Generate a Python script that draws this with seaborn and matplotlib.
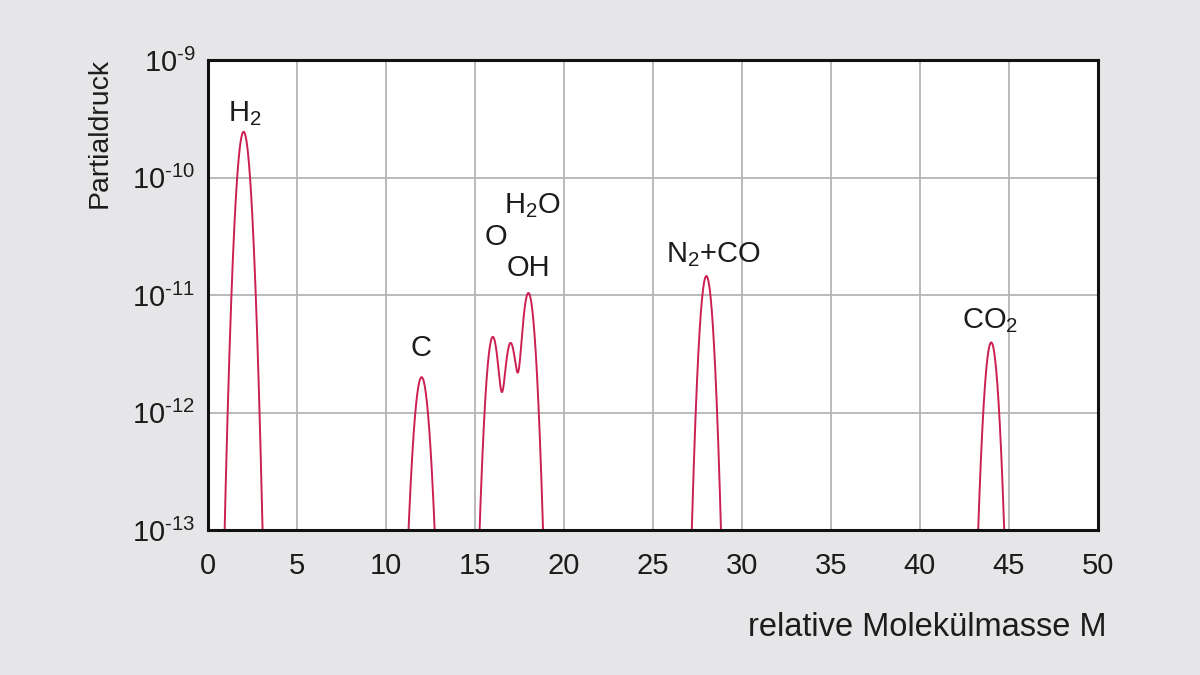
import numpy as np
import pandas as pd
import matplotlib
matplotlib.use("Agg")
import matplotlib.pyplot as plt
import seaborn as sns

# ---- data ----
peak_mass = [2, 12, 16, 17, 18, 28, 44]                      # relative Molekülmasse M
peak_pressure = [2.45e-10, 2.0e-12, 4.4e-12, 3.9e-12, 1.04e-11, 1.45e-11, 3.95e-12]  # Partialdruck
peak_width = [0.27, 0.30, 0.27, 0.27, 0.27, 0.26, 0.27]      # peak sigma (mass units)

label_texts = [r"$\mathregular{H_2}$", "C", r"$\mathregular{H_2O}$", "O", "OH",
               r"$\mathregular{N_2{+}CO}$", r"$\mathregular{CO_2}$"]
label_x = [2.08, 11.94, 18.2, 16.17, 18.03, 28.4, 43.94]
label_y = [3.5e-10, 3.55e-12, 5.8e-11, 3.1e-11, 1.7e-11, 2.2e-11, 6.1e-12]

x_ticks = [0, 5, 10, 15, 20, 25, 30, 35, 40, 45, 50]
y_ticks = [1e-13, 1e-12, 1e-11, 1e-10, 1e-9]
y_exponents = ["13", "12", "11", "10", "9"]
y_tick_labels = [r"$\mathregular{10^{\text{-}" + e + r"}}$" for e in y_exponents]

# ---- spectrum built from the peak list ----
mass = np.linspace(0, 50, 5001)
pressure = np.zeros_like(mass)
for m, p, w in zip(peak_mass, peak_pressure, peak_width):
    pressure += p * np.exp(-0.5 * ((mass - m) / w) ** 2)
pressure = np.maximum(pressure, 1e-16)
df = pd.DataFrame({"M": mass, "p": pressure})

sns.set_theme(style="white")
plt.rcParams["font.family"] = ["Liberation Sans", "DejaVu Sans"]
plt.rcParams["mathtext.fontset"] = "custom"
plt.rcParams["mathtext.rm"] = "Liberation Sans"

txt = "#1c1c1c"
bg = "#e6e6e8"
fig = plt.figure(figsize=(12, 6.75), dpi=100, facecolor=bg)
ax = fig.add_axes([208 / 1200, 1 - 530 / 675, 890 / 1200, 470 / 675])
ax.set_facecolor("white")

sns.lineplot(data=df, x="M", y="p", ax=ax, color="#cc1f52", linewidth=1.4)

ax.set_yscale("log")
ax.set_xlim(0, 50)
ax.set_ylim(1e-13, 1e-9)
ax.set_xticks(x_ticks)
ax.set_xticklabels([str(t) for t in x_ticks])
ax.set_yticks(y_ticks)
ax.set_yticklabels(y_tick_labels)
ax.yaxis.set_minor_locator(matplotlib.ticker.NullLocator())
ax.tick_params(axis="both", length=0, labelsize=21, colors=txt)
ax.tick_params(axis="x", pad=16)
ax.tick_params(axis="y", pad=9)
ax.grid(True, color="#b4b4b4", linewidth=1.3)
ax.set_axisbelow(True)
for s in ax.spines.values():
    s.set_color("#111111")
    s.set_linewidth(2.2)
ax.set_xlabel("")
ax.set_ylabel("")

for t, x, y in zip(label_texts, label_x, label_y):
    ax.text(x, y, t, ha="center", va="center", fontsize=21, color=txt)

fig.text(100 / 1200, 1 - 58 / 675, "Partialdruck", rotation=90, ha="center", va="top",
         fontsize=20.5, color=txt)
fig.text(1106 / 1200, 1 - 628 / 675, "relative Molekülmasse M", ha="right", va="center",
         fontsize=23.5, color=txt)

fig.savefig("out.png", dpi=100, facecolor=bg)
